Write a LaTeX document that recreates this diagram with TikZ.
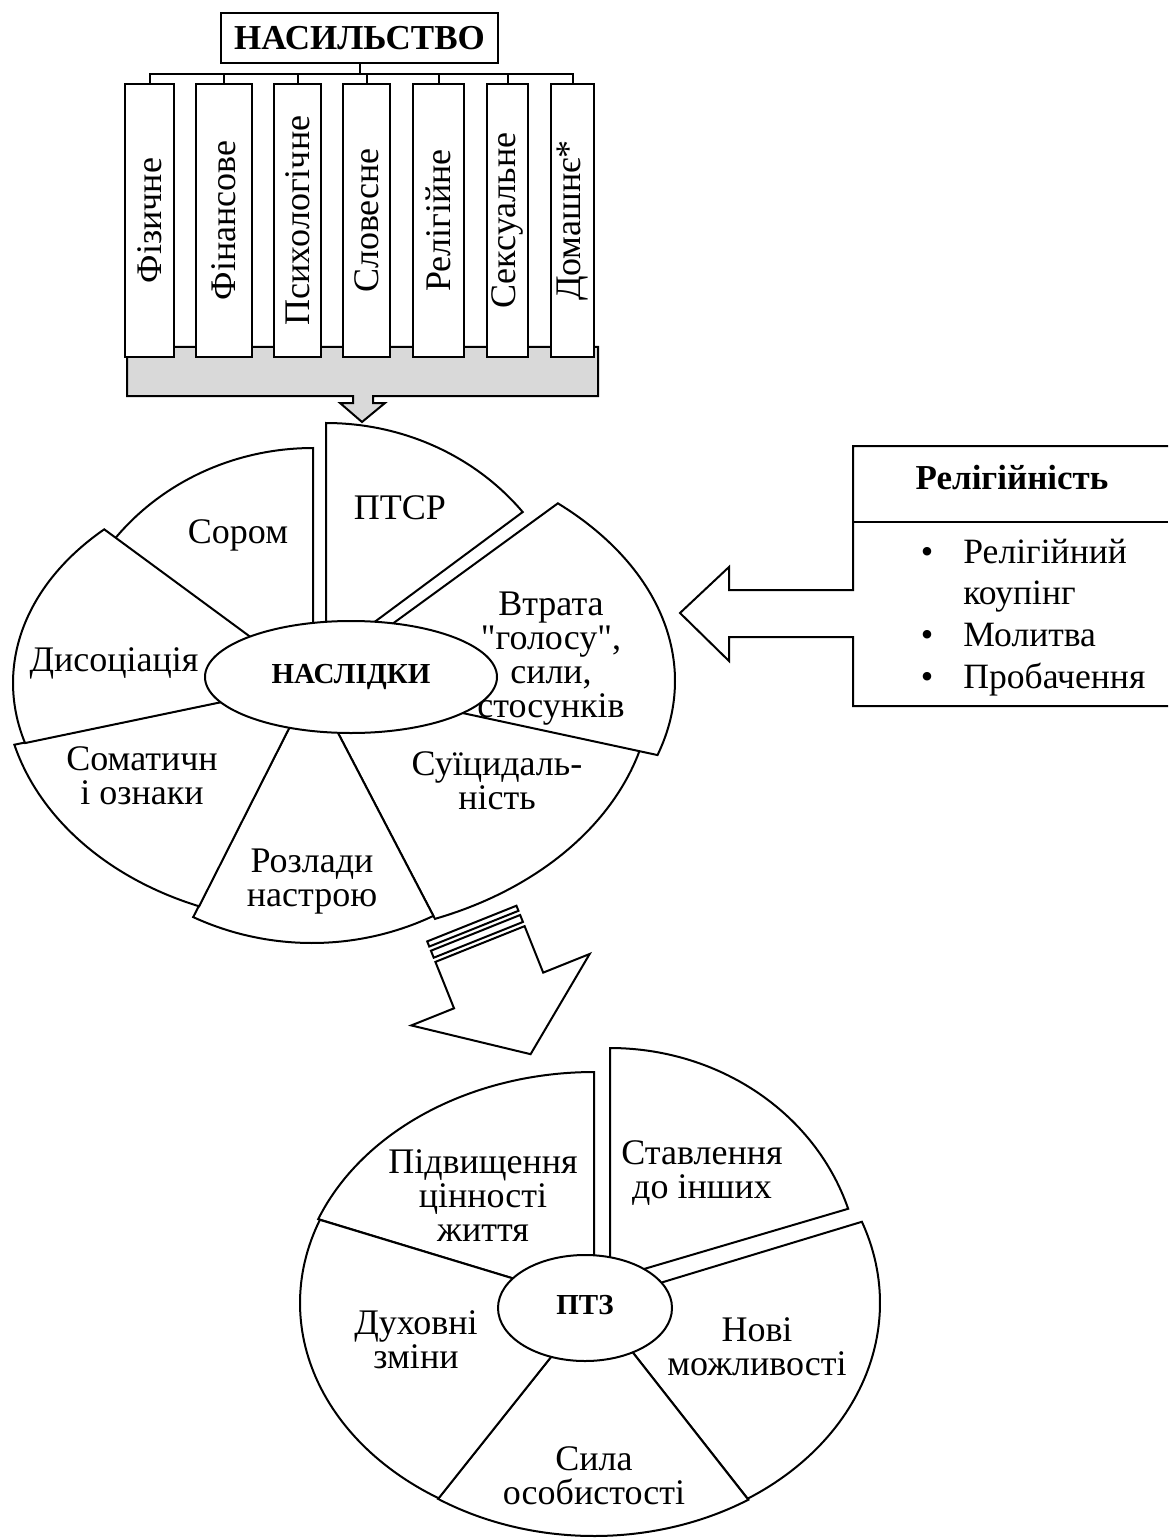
\documentclass[tikz,border=0pt]{standalone}
\usepackage{fontspec}
\setmainfont{Liberation Serif}[Ligatures=TeXOff]
\usetikzlibrary{shapes.geometric}

% one wedge of an elliptic wheel: centre x, centre y, x radius, y radius, start angle, end angle
\newcommand\pieslice[6]{%
  \draw[slice] (#1,#2) -- plot[domain=#5:#6, samples=60, variable=\t]
    ({#1+#3*cos(\t)},{#2+#4*sin(\t)}) -- cycle;}

\begin{document}
\begin{tikzpicture}[x=0.5pt, y=-0.5pt,
  outline/.style={draw=black, line width=1pt, line join=miter},
  slice/.style={outline, fill=white},
  box/.style={outline, fill=white, inner sep=0pt},
  kind/.style={box, minimum height=136.5pt, font=\fontsize{18pt}{18pt}\selectfont},
  hub/.style={outline, fill=white, ellipse, inner sep=0pt,
              font=\bfseries\fontsize{14.5pt}{14.5pt}\selectfont},
  label/.style={align=center, inner sep=0pt, font=\fontsize{18pt}{17pt}\selectfont},
  listtext/.style={anchor=base west, inner sep=0pt, font=\fontsize{17.8pt}{17.8pt}\selectfont},
  dot/.style={anchor=base, inner sep=0pt, font=\fontsize{17.8pt}{17.8pt}\selectfont}
]
\fill[white] (0,0) rectangle (1168,1540);
\useasboundingbox (0,0) rectangle (1168,1540);

% ---------- forms of violence ----------
\draw[outline, fill=gray!30] (127,347) -- (598,347) -- (598,396) -- (373,396) -- (373,403)
  -- (385,403) -- (362,422) -- (340,403) -- (353,403) -- (353,396) -- (127,396) -- cycle;

\node[box, minimum width=138.5pt, minimum height=25pt,
      font=\bfseries\fontsize{17.5pt}{17.5pt}\selectfont] (viol) at (359.5,38) {НАСИЛЬСТВО};

\node[kind, minimum width=24.5pt] (t1) at (149.5,220.5) {\rotatebox{90}{Фізичне}};
\node[kind, minimum width=28pt]   (t2) at (224,220.5)   {\rotatebox{90}{Фінансове}};
\node[kind, minimum width=23.5pt] (t3) at (297.5,220.5) {\rotatebox{90}{Психологічне}};
\node[kind, minimum width=23.5pt] (t4) at (366.5,220.5) {\rotatebox{90}{Словесне}};
\node[kind, minimum width=25.5pt] (t5) at (438.5,220.5) {\rotatebox{90}{Релігійне}};
\node[kind, minimum width=20.5pt] (t6) at (507.5,220.5) {\rotatebox{90}{Сексуальне}};
\node[kind, minimum width=21.5pt] (t7) at (572.5,220.5) {\rotatebox{90}{Домашнє*}};

\coordinate (bus) at (359.5,74);
\draw[outline] (viol.south) -- (bus);
\draw[outline] (t1.north) -- (t1.north |- bus) -- (t7.north |- bus) -- (t7.north);
\foreach \k in {t2,t3,t4,t5,t6}
  \draw[outline] (\k.north) -- (\k.north |- bus);

% ---------- consequences wheel ----------
\pieslice{313}{683}{251}{235}{-150}{-90}      % shame
\pieslice{326}{658}{251}{235}{-90}{-38.4}     % PTSD
\pieslice{312}{683}{340}{253}{5}{68.8}        % suicidality
\pieslice{314}{681}{361}{241}{-47.5}{17.9}    % loss of voice
\pieslice{312}{683}{273}{260}{63.6}{115.8}    % mood
\pieslice{312}{683}{308}{240}{111.5}{165.1}   % somatic
\pieslice{313}{683}{300}{214}{163.7}{225.9}   % dissociation

\node[hub, minimum width=146pt, minimum height=56pt] (cons) at (351,677) {\raisebox{3pt}{НАСЛІДКИ}};

\node[label] (c1) at (238,535) {Сором};
\node[label] (c2) at (400,508) {ПТСР};
\node[label] (c3) at (114,663) {Дисоціація};
\node[label] (c4) at (142,776) {Соматичн\\і ознаки};
\node[label] (c5) at (312,882) {Розлади\\настрою};
\node[label] (c6) at (497,781) {Суїцидаль-\\ність};
\node[label] (c7) at (551,659) {Втрата\\"голосу",\\сили,\\стосунків};

% ---------- religiosity ----------
\draw[outline] (1168,446) -- (853,446) -- (853,590) -- (729,590) -- (729,567) -- (680,613)
  -- (729,661) -- (729,637) -- (853,637) -- (853,706) -- (1168,706);
\draw[outline] (853,522) -- (1168,522);
\node[inner sep=0pt, font=\bfseries\fontsize{17.5pt}{17.5pt}\selectfont] (rel) at (1012,478) {Релігійність};
\node[dot] (d1) at (927,563) {\textbullet};
\node[listtext] (r1) at (963,563) {Релігійний};
\node[listtext] (r2) at (963,604) {коупінг};
\node[dot] (d2) at (927,646) {\textbullet};
\node[listtext] (r3) at (963,646) {Молитва};
\node[dot] (d3) at (927,688) {\textbullet};
\node[listtext] (r4) at (963,688) {Пробачення};

% ---------- striped arrow ----------
\begin{scope}[shift={(480,944)}, x={(0.4645pt,0.186pt)}, y={(0.186pt,-0.4645pt)}]
  \draw[outline, fill=white] (-48,-22) -- (48,-22) -- (48,-16.5) -- (-48,-16.5) -- cycle;
  \draw[outline, fill=white] (-48,-12) -- (48,-12) -- (48,-4.5) -- (-48,-4.5) -- cycle;
  \draw[outline, fill=white] (-48,0) -- (48,0) -- (48,50) -- (98,50) -- (6,121)
    -- (-94,50) -- (-48,50) -- cycle;
\end{scope}

% ---------- post-traumatic growth wheel ----------
\pieslice{594}{1303}{296}{231}{-158.7}{-90}   % value of life
\pieslice{610}{1279}{250}{231}{-90}{-17.7}    % relating to others
\pieslice{594}{1303}{286}{232}{-20.5}{57.5}   % new possibilities
\pieslice{594}{1303}{288}{233}{57.6}{122.8}   % personal strength
\pieslice{594}{1303}{294}{230}{121.9}{201.2}  % spiritual change

\node[hub, minimum width=87pt, minimum height=53pt] (ptg) at (585,1308) {\raisebox{3pt}{ПТЗ}};

\node[label] (g1) at (483,1196) {Підвищення\\цінності\\життя};
\node[label] (g2) at (702,1173) {Ставлення\\до інших};
\node[label] (g3) at (757,1347) {Нові\\можливості};
\node[label] (g4) at (594,1476) {Сила\\особистості};
\node[label] (g5) at (416,1340) {Духовні\\зміни};
\end{tikzpicture}
\end{document}
